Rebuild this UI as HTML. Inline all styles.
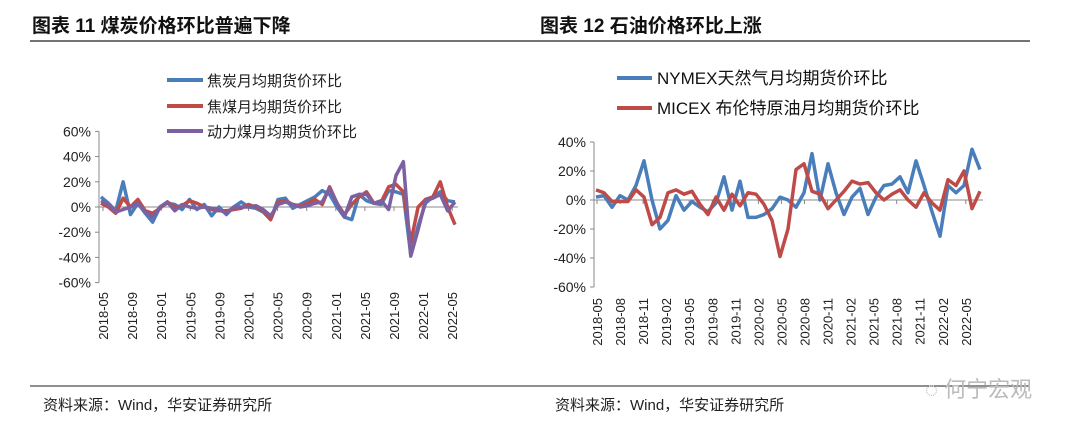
<!DOCTYPE html>
<html><head><meta charset="utf-8"><style>
html,body{margin:0;padding:0;background:#fff;}
svg{display:block;font-family:"Liberation Sans","Noto Sans CJK SC",sans-serif;}
</style></head><body>
<svg id="s" width="1080" height="438" viewBox="0 0 1080 438" xmlns="http://www.w3.org/2000/svg">
<text x="32" y="32" font-size="19" font-weight="bold" fill="#111">图表 11  煤炭价格环比普遍下降</text>
<text x="540" y="32" font-size="19" font-weight="bold" fill="#111">图表 12  石油价格环比上涨</text>
<line x1="30" y1="41" x2="1030" y2="41" stroke="#222" stroke-width="1.2"/>
<line x1="30" y1="386" x2="1030" y2="386" stroke="#222" stroke-width="1"/>
<text x="43" y="410" font-size="15" fill="#222">资料来源：Wind，华安证券研究所</text>
<text x="555" y="410" font-size="15" fill="#222">资料来源：Wind，华安证券研究所</text>
<text x="925" y="397" font-size="22" fill="#bbb">◌ 何宁宏观</text>
<g>
<line x1="167" y1="80" x2="203" y2="80" stroke="#4a7ebb" stroke-width="4"/>
<text x="207" y="86" font-size="15" fill="#222">焦炭月均期货价环比</text>
<line x1="167" y1="106" x2="203" y2="106" stroke="#be4b48" stroke-width="4"/>
<text x="207" y="112" font-size="15" fill="#222">焦煤月均期货价环比</text>
<line x1="167" y1="131" x2="203" y2="131" stroke="#7d60a0" stroke-width="4"/>
<text x="207" y="137" font-size="15" fill="#222">动力煤月均期货价环比</text>
</g>
<g>
<line x1="617" y1="78" x2="652" y2="78" stroke="#4a7ebb" stroke-width="4"/>
<text x="657" y="84" font-size="17" fill="#111">NYMEX天然气月均期货价环比</text>
<line x1="617" y1="108" x2="652" y2="108" stroke="#be4b48" stroke-width="4"/>
<text x="657" y="114" font-size="17" fill="#111">MICEX 布伦特原油月均期货价环比</text>
</g>
<g id="L"></g>
<g id="R"></g>
</svg>
<script>
const leftTicks=[60,40,20,0,-20,-40,-60];
const leftCats=["2018-05","2018-09","2019-01","2019-05","2019-09","2020-01","2020-05","2020-09","2021-01","2021-05","2021-09","2022-01","2022-05"];
const coke=[8,3,-3,20,-6,3,-5,-12,0,3,2,-2,6,-2,2,-7,0,-6,0,4,0,-1,-4,-10,6,7,-1,2,5,8,13,10,0,-8,-10,10,5,3,2,13,12,10,-38,-15,3,8,12,5,4];
const cokingCoal=[3,0,-5,7,0,6,-3,-5,-1,4,0,1,5,3,0,-2,-3,-3,-2,-1,2,0,-3,-10,4,5,2,1,3,6,2,16,3,-6,2,8,12,3,4,16,18,12,-28,0,6,8,20,0,-14];
const thermalCoal=[5,2,-4,-2,0,3,-4,-8,0,4,-3,2,0,-1,0,-1,-2,-5,0,0,0,1,-2,-7,2,4,2,0,1,3,4,15,3,-8,8,10,10,3,5,-2,25,36,-39,-18,5,7,10,-3,4];
const rightTicks=[40,20,0,-20,-40,-60];
const rightCats=["2018-05","2018-08","2018-11","2019-02","2019-05","2019-08","2019-11","2020-02","2020-05","2020-08","2020-11","2021-02","2021-05","2021-08","2021-11","2022-02","2022-05"];
const nymex=[2,3,-5,3,0,10,27,0,-20,-14,3,-7,-1,-5,-8,-2,16,-7,13,-12,-12,-10,-6,2,0,-5,5,32,0,25,5,-10,2,8,-10,2,10,11,16,5,27,10,-8,-25,10,5,10,35,21];
const micex=[7,5,-1,-1,-1,7,2,-17,-12,5,7,4,6,-3,-10,2,-7,4,-4,5,4,-3,-14,-39,-20,21,25,6,4,-6,0,6,13,11,12,5,0,4,7,0,-5,5,-2,-7,14,10,20,-6,6];
const NS="http://www.w3.org/2000/svg";
function mk(p,t,a){const e=document.createElementNS(NS,t);for(const k in a)e.setAttribute(k,a[k]);p.appendChild(e);return e;}
function chart(g,o){
  const y=v=>o.y0-(v/20)*o.py20;
  const x=i=>o.x0+i*(o.x1-o.x0)/(o.n-1);
  const ax=mk(g,'line',{x1:o.ax,y1:y(o.ticks[0]),x2:o.ax,y2:y(o.ticks[o.ticks.length-1]),stroke:'#888','stroke-width':1});
  
  
  o.ticks.forEach(t=>{
    const tk=mk(g,'line',{x1:o.ax-4,y1:y(t),x2:o.ax,y2:y(t),stroke:'#888'});
    
    
    const tx=mk(g,'text',{x:o.ax-8,y:y(t)+5,'font-size':14,'text-anchor':'end',fill:'#222'});
    tx.textContent=t+'%';
    
    
  });
  const z=mk(g,'line',{x1:o.ax,y1:y(0),x2:o.x1+3,y2:y(0),stroke:'#888'});
  
  
  o.cats.forEach((c,k)=>{
    const lx=o.lx0+k*o.lstep;
    const tk=mk(g,'line',{x1:lx,y1:y(0),x2:lx,y2:y(0)+4,stroke:'#888'});
    
    
    const tx=mk(g,'text',{x:0,y:0,'font-size':13,fill:'#222','text-anchor':'end',transform:`translate(${lx+5},${o.ly}) rotate(-90)`});
    tx.textContent=c;
    
    
  });
  o.series.forEach(s=>{
    const p=mk(g,'polyline',{points:s.d.map((v,i)=>x(i)+','+y(v)).join(' '),fill:'none',stroke:s.c,'stroke-width':3.5,'stroke-linejoin':'round'});
    
    
  });
}
chart(document.getElementById('L'),{y0:207,py20:25.2,ax:99,x0:101,x1:455,n:49,ticks:leftTicks,cats:leftCats,lx0:103,lstep:29.1,ly:292,
  series:[{d:coke,c:'#4a7ebb',n:'coke-line'},{d:cokingCoal,c:'#be4b48',n:'coking-coal-line'},{d:thermalCoal,c:'#7d60a0',n:'thermal-coal-line'}]});
chart(document.getElementById('R'),{y0:200,py20:29,ax:594,x0:596,x1:980,n:49,ticks:rightTicks,cats:rightCats,lx0:597,lstep:23.05,ly:298,
  series:[{d:nymex,c:'#4a7ebb',n:'nymex-line'},{d:micex,c:'#be4b48',n:'micex-line'}]});
</script>
</body></html>
